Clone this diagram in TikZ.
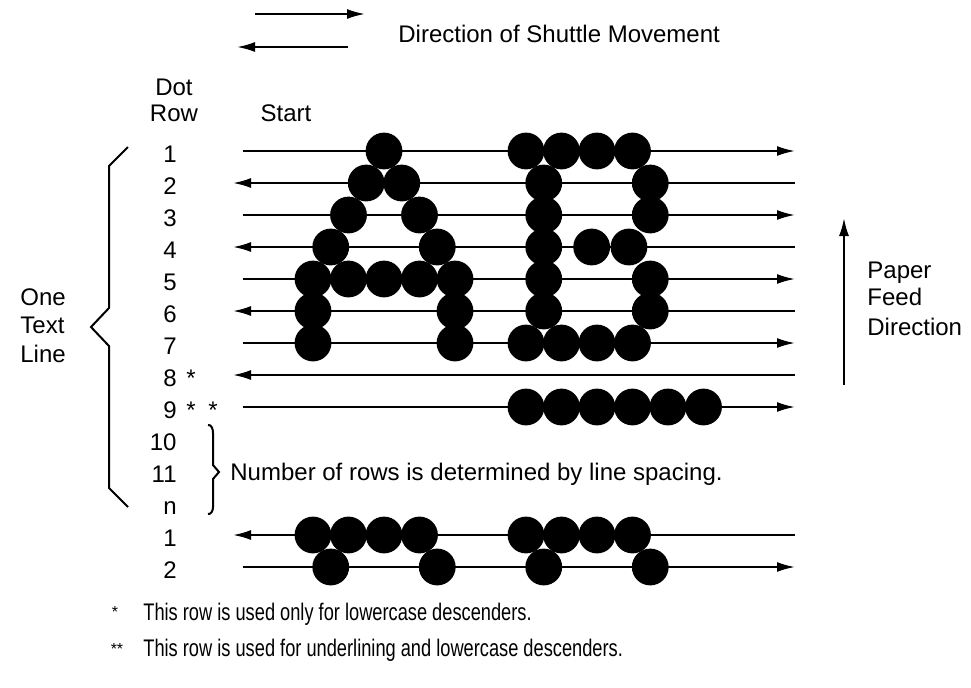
\documentclass[tikz,border=0pt]{standalone}
\usepackage{fontspec}
\setmainfont{Liberation Sans}
\newfontfamily\narrowfont[FakeStretch=0.76]{Liberation Sans}
\usetikzlibrary{arrows.meta}

\tikzset{
  lbl/.style={inner sep=0pt, font=\fontsize{12}{14}\selectfont},
  note/.style={inner sep=0pt, font=\fontsize{12}{14}\narrowfont},
  small/.style={inner sep=0pt, font=\fontsize{8}{9}\selectfont},
  pass/.style={line width=1pt, -{Latex[length=9pt,width=5pt]}},
  brace/.style={line width=1pt}
}

\begin{document}
\begin{tikzpicture}[x=0.5pt,y=-0.5pt]
  \useasboundingbox (0,0) rectangle (971,687);
  % shuttle direction
  \coordinate (sa) at (255,14);
  \coordinate (sb) at (365,14);
  \coordinate (sc) at (348,47);
  \coordinate (sd) at (237,47);
  \draw[pass] (sa) -- (sb);
  \draw[pass] (sc) -- (sd);
  \node[lbl, anchor=base west] (shuttle) at (398,42) {Direction of Shuttle Movement};
  % headings
  \node[lbl, anchor=base] (dot) at (174,95) {Dot};
  \node[lbl, anchor=base] (row) at (174,121) {Row};
  \node[lbl, anchor=base] (start) at (286,121) {Start};
  % dot row numbers
  \foreach \r/\t in {1/1,2/2,3/3,4/4,5/5,6/6,7/7,8/8,9/9,10/10,11/11,12/n,13/1,14/2}
    \node[lbl, anchor=base east] (n\r) at (177,{151+32*(\r-1)+11}) {\t};
  \node[lbl, anchor=base west] (a8) at (186,{151+32*7+11}) {*};
  \node[lbl, anchor=base west] (a9) at (186,{151+32*8+11}) {*};
  \node[lbl, anchor=base west] (b9) at (208,{151+32*8+11}) {*};
  % shuttle passes
  \foreach \r in {1,3,5,7,9,14} {
    \coordinate (w\r) at (243,{151+32*(\r-1)});
    \coordinate (e\r) at (795,{151+32*(\r-1)});
    \draw[pass] (w\r) -- (e\r);
  }
  \foreach \r in {2,4,6,8,13} {
    \coordinate (w\r) at (233,{151+32*(\r-1)});
    \coordinate (e\r) at (795,{151+32*(\r-1)});
    \draw[pass] (e\r) -- (w\r);
  }
  % dots: A and B
  \foreach \k/\r in {4/1,3/2,5/2,2/3,6/3,1/4,7/4,0/5,2/5,4/5,6/5,8/5,0/6,8/6,0/7,8/7}
    \fill ({313+17.75*\k},{151+32*(\r-1)}) circle (9.2pt);
  \foreach \k/\r in {12/1,14/1,16/1,18/1,13/2,19/2,13/3,19/3,13/4,15.7/4,17.8/4,
                     13/5,19/5,13/6,19/6,12/7,14/7,16/7,18/7}
    \fill ({313+17.75*\k},{151+32*(\r-1)}) circle (9.2pt);
  % underline row
  \foreach \k in {12,14,16,18,20,22}
    \fill ({313+17.75*\k},407) circle (9.2pt);
  % next text line
  \foreach \k/\r in {0/13,2/13,4/13,6/13,12/13,14/13,16/13,18/13,1/14,7/14,13/14,19/14}
    \fill ({313+17.75*\k},{151+32*(\r-1)}) circle (9.2pt);
  % braces
  \draw[brace] (128,147) -- (109,166) -- (109,308) -- (91,327) -- (109,346) -- (109,488) -- (128,507);
  \node[lbl, anchor=base west] (one) at (20,305) {One};
  \node[lbl, anchor=base west] (text) at (20,333) {Text};
  \node[lbl, anchor=base west] (line) at (20,362) {Line};
  \draw[brace] (208,425) to[out=10,in=90] (213,433) -- (213,465) -- (219,472)
    -- (213,479) -- (213,507) to[out=-90,in=-10] (208,514);
  \node[lbl, anchor=base west] (spacing) at (230,480) {Number of rows is determined by line spacing.};
  % paper feed
  \coordinate (fa) at (844,385);
  \coordinate (fb) at (844,218);
  \draw[pass] (fa) -- (fb);
  \node[lbl, anchor=base west] (paper) at (867,278) {Paper};
  \node[lbl, anchor=base west] (feed) at (867,305) {Feed};
  \node[lbl, anchor=base west] (dir) at (867,335) {Direction};
  % footnotes
  \node[small, anchor=base] (s1) at (115,617) {*};
  \node[note, anchor=base west] (f1) at (143,620) {This row is used only for lowercase descenders.};
  \node[small, anchor=base] (s2) at (117,654) {**};
  \node[note, anchor=base west] (f2) at (143,656) {This row is used for underlining and lowercase descenders.};
\end{tikzpicture}
\end{document}
